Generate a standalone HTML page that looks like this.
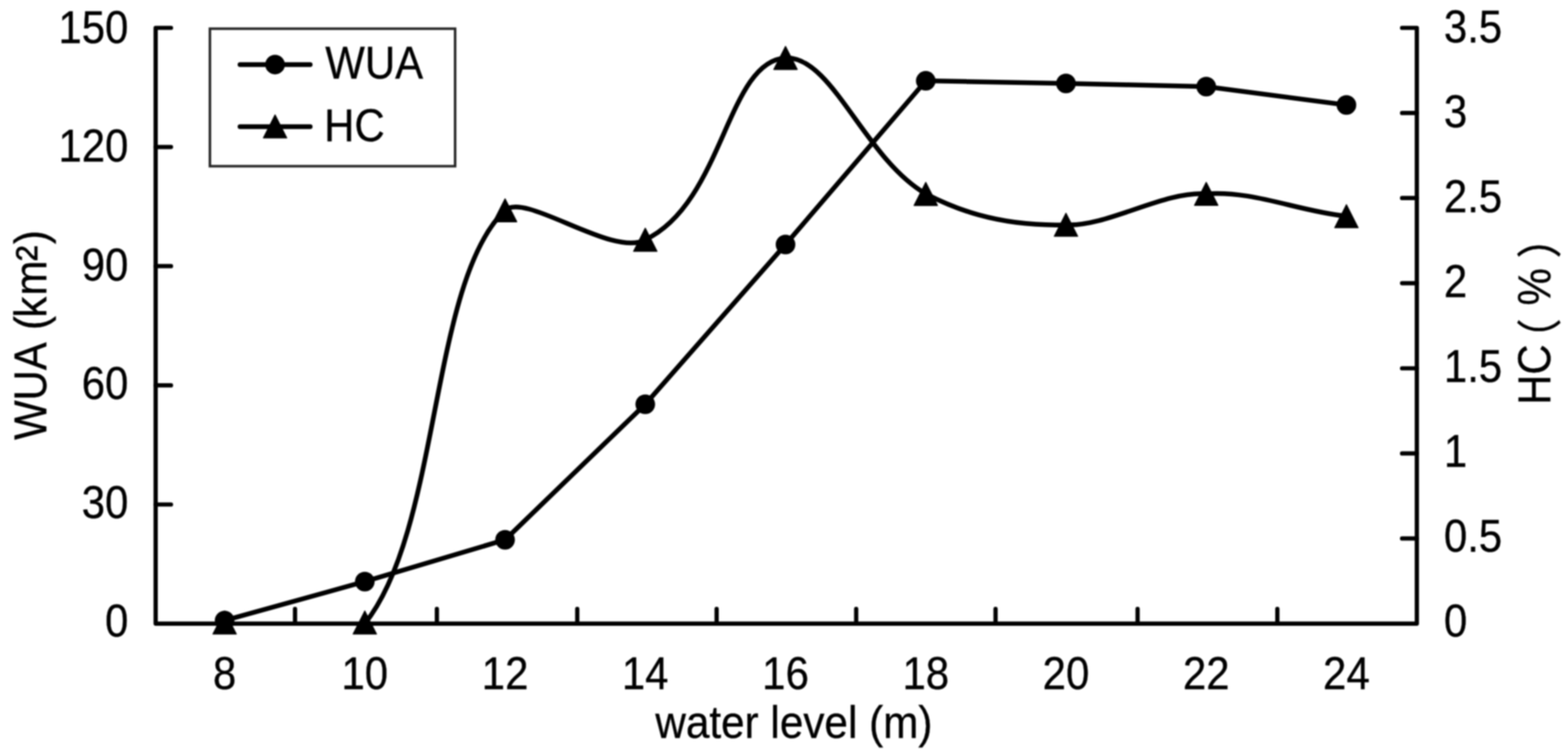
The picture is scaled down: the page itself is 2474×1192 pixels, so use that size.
<!DOCTYPE html>
<html><head><meta charset="utf-8"><title>WUA and HC vs water level</title>
<style>html,body{margin:0;padding:0;background:#fff;width:2474px;height:1192px;overflow:hidden}svg{display:block;filter:blur(1px)}</style>
</head><body>
<svg width="2474" height="1192" viewBox="0 0 2474 1192"><g fill="none" stroke="#000" stroke-width="6.7" stroke-linejoin="round" stroke-linecap="round">
<path d="M269.8,44 H245.6 V984.6 H2235.5 V44 H2212.2"/>
<path d="M245.6,796.5H269.8M245.6,608.4H269.8M245.6,420.2H269.8M245.6,232.1H269.8M2235.5,850.2H2212.2M2235.5,715.9H2212.2M2235.5,581.5H2212.2M2235.5,447.1H2212.2M2235.5,312.7H2212.2M2235.5,178.4H2212.2M465.5,984.6V961.4M689.3,984.6V961.4M910.8,984.6V961.4M1130.7,984.6V961.4M1350.9,984.6V961.4M1570.8,984.6V961.4M1794.9,984.6V961.4M2015.4,984.6V961.4"/>
</g>
<path d="M575.6,984.6 C695.7,834.7 678.1,444.4 796.9,332 C828.7,302.4 967,407.6 1018.1,378.5 C1141.5,320.1 1146.6,96.4 1239.4,91.4 C1313.7,88.6 1362.9,248.8 1460.7,306.1 C1499.5,326 1569.8,358.2 1681.9,354.9 C1747,358.5 1836,301.1 1903.2,306 C1977,300.5 2046.9,333 2124.4,341.4" fill="none" stroke="#000" stroke-width="7.5" stroke-linejoin="round" stroke-linecap="round"/>
<polyline points="354.4,979.7 575.6,918.2 796.9,852.2 1018.1,638.2 1239.4,386 1460.7,127.6 1681.9,131.7 1903.2,136.7 2124.4,165.8" fill="none" stroke="#000" stroke-width="7.5" stroke-linejoin="round" stroke-linecap="round"/>
<g fill="#000">
<circle cx="354.4" cy="979.7" r="15.5"/>
<circle cx="575.6" cy="918.2" r="15.5"/>
<circle cx="796.9" cy="852.2" r="15.5"/>
<circle cx="1018.1" cy="638.2" r="15.5"/>
<circle cx="1239.4" cy="386" r="15.5"/>
<circle cx="1460.7" cy="127.6" r="15.5"/>
<circle cx="1681.9" cy="131.7" r="15.5"/>
<circle cx="1903.2" cy="136.7" r="15.5"/>
<circle cx="2124.4" cy="165.8" r="15.5"/>
<path d="M354.4,964.5 L372.9,1001 L335.9,1001 Z" stroke="#000" stroke-width="1.5" stroke-linejoin="round"/>
<path d="M575.6,964.5 L594.1,1001 L557.1,1001 Z" stroke="#000" stroke-width="1.5" stroke-linejoin="round"/>
<path d="M796.9,313.8 L815.4,350.2 L778.4,350.2 Z" stroke="#000" stroke-width="1.5" stroke-linejoin="round"/>
<path d="M1018.1,360.2 L1036.7,396.8 L999.6,396.8 Z" stroke="#000" stroke-width="1.5" stroke-linejoin="round"/>
<path d="M1239.4,73.2 L1257.9,109.7 L1220.9,109.7 Z" stroke="#000" stroke-width="1.5" stroke-linejoin="round"/>
<path d="M1460.7,287.9 L1479.2,324.4 L1442.2,324.4 Z" stroke="#000" stroke-width="1.5" stroke-linejoin="round"/>
<path d="M1681.9,336.6 L1700.4,373.1 L1663.4,373.1 Z" stroke="#000" stroke-width="1.5" stroke-linejoin="round"/>
<path d="M1903.2,287.8 L1921.7,324.2 L1884.7,324.2 Z" stroke="#000" stroke-width="1.5" stroke-linejoin="round"/>
<path d="M2124.4,323.1 L2142.9,359.6 L2105.9,359.6 Z" stroke="#000" stroke-width="1.5" stroke-linejoin="round"/>
</g>
<rect x="331.2" y="45.3" width="386.9" height="217.1" fill="none" stroke="#262626" stroke-width="4"/>
<g stroke="#000" stroke-width="7.5" stroke-linecap="round"><path d="M378.7,102H489.4M378.7,200H489.4"/></g>
<circle cx="434" cy="101.9" r="15.5"/>
<path d="M434,181.3 L452.5,217.8 L415.5,217.8 Z" stroke="#000" stroke-width="1.5" stroke-linejoin="round"/>
<g font-family="Liberation Sans, sans-serif" font-size="71.5" fill="#000" stroke="#000" stroke-width="0.5">
<text transform="translate(513.3,123.6) scale(0.925,1)">WUA</text>
<text transform="translate(511.5,223.2) scale(0.925,1)">HC</text>
<text transform="translate(202.5,1005) scale(0.925,1)" text-anchor="end">0</text>
<text transform="translate(202.5,817.6) scale(0.925,1)" text-anchor="end">30</text>
<text transform="translate(202.5,630.1) scale(0.925,1)" text-anchor="end">60</text>
<text transform="translate(202.5,442.7) scale(0.925,1)" text-anchor="end">90</text>
<text transform="translate(202.5,255.2) scale(0.925,1)" text-anchor="end">120</text>
<text transform="translate(202.5,67.8) scale(0.925,1)" text-anchor="end">150</text>
<text transform="translate(2278.2,1005.1) scale(0.925,1)">0</text>
<text transform="translate(2278.2,871.1) scale(0.925,1)">0.5</text>
<text transform="translate(2278.2,737.2) scale(0.925,1)">1</text>
<text transform="translate(2278.2,603.2) scale(0.925,1)">1.5</text>
<text transform="translate(2278.2,469.2) scale(0.925,1)">2</text>
<text transform="translate(2278.2,335.2) scale(0.925,1)">2.5</text>
<text transform="translate(2278.2,201.3) scale(0.925,1)">3</text>
<text transform="translate(2278.2,67.3) scale(0.925,1)">3.5</text>
<text transform="translate(354.4,1088.3) scale(0.925,1)" text-anchor="middle">8</text>
<text transform="translate(575.6,1088.3) scale(0.925,1)" text-anchor="middle">10</text>
<text transform="translate(796.9,1088.3) scale(0.925,1)" text-anchor="middle">12</text>
<text transform="translate(1018.1,1088.3) scale(0.925,1)" text-anchor="middle">14</text>
<text transform="translate(1239.4,1088.3) scale(0.925,1)" text-anchor="middle">16</text>
<text transform="translate(1460.7,1088.3) scale(0.925,1)" text-anchor="middle">18</text>
<text transform="translate(1681.9,1088.3) scale(0.925,1)" text-anchor="middle">20</text>
<text transform="translate(1903.2,1088.3) scale(0.925,1)" text-anchor="middle">22</text>
<text transform="translate(2124.4,1088.3) scale(0.925,1)" text-anchor="middle">24</text>
<text transform="translate(1252.6,1164.5) scale(0.933,1)" text-anchor="middle">water level (m)</text>
<text transform="translate(72.6,694.6) rotate(-90) scale(0.925,1)">WUA <tspan x="187.7">(</tspan><tspan x="208.8">k</tspan><tspan x="246.7">m</tspan><tspan x="305.2" y="8.7" font-size="80">²</tspan><tspan x="334.2" y="0">)</tspan></text>
<text transform="translate(2445.6,639.3) rotate(-90) scale(0.925,1)">HC<tspan x="76.4" y="9.25" font-family="Liberation Sans, Noto Sans CJK SC, sans-serif">（</tspan><tspan x="169.9" y="0">%</tspan><tspan x="250.1" y="9.25" font-family="Liberation Sans, Noto Sans CJK SC, sans-serif">）</tspan></text>
</g></svg>
</body></html>
